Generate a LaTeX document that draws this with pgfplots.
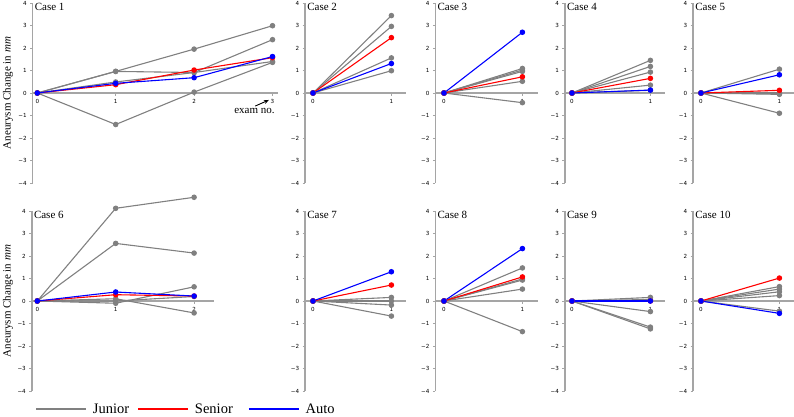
\documentclass[border=0pt]{standalone}
\usepackage{pgfplots}
\pgfplotsset{compat=1.18}
\usepackage{fontspec}
\setmainfont{Liberation Serif}
\newfontfamily\tickfamily{DejaVu Sans}
\usetikzlibrary{arrows.meta}
\definecolor{spine}{RGB}{165,165,165}
\definecolor{jgray}{RGB}{128,128,128}
\definecolor{sred}{RGB}{255,0,0}
\definecolor{ablue}{RGB}{0,0,255}
\newcommand{\tickfont}{\tickfamily\fontsize{5.6}{6}\selectfont}
\newcommand{\titlefont}{\fontsize{11}{13}\selectfont}
\newcommand{\legfont}{\fontsize{14.5}{16}\selectfont}
\pgfplotsset{
  case/.style={
    x=78.4pt, y=22.5pt, ymin=-4, ymax=4, anchor=origin, clip=false,
    axis x line=middle, axis y line=left,
    axis line style={draw=spine, line width=1.4pt, -},
    ytick={-4,-3,...,4}, yticklabels={−4,−3,−2,−1,0,1,2,3,4},
    xtick={0,1}, xticklabels={0,1},
    tick align=outside, major tick length=2.5pt,
    tick style={draw=spine, line width=0.8pt},
    ticklabel style={font=\tickfont, text=black},
    hide obscured x ticks=false, hide obscured y ticks=false,
    every axis plot/.append style={line width=1.1pt, mark=*, mark size=2.2pt},
  },
  jr/.style={color=jgray, mark options={fill=jgray}},
  sr/.style={color=sred, mark options={fill=sred}},
  au/.style={color=ablue, mark options={fill=ablue}},
}
\newcommand{\casetitle}[1]{\node[anchor=north west, inner sep=0pt, font=\titlefont, xshift=2pt] at (rel axis cs:0,1) {#1};}
\begin{document}
\begin{tikzpicture}
\useasboundingbox (0,0) rectangle (794pt,416pt);
% ---------------- Case 1
\begin{axis}[case, at={(37.3pt,323pt)}, xmin=-0.06, xmax=3.07, xtick={0,1,2,3}, xticklabels={0,1,2,3}]
\addplot[jr] coordinates {(0,0) (1,0.96) (2,1.95) (3,2.99)};
\addplot[jr] coordinates {(0,0) (1,0.96) (2,0.91) (3,1.40)};
\addplot[jr] coordinates {(0,0) (1,0.49) (2,0.91) (3,2.37)};
\addplot[jr] coordinates {(0,0) (1,-1.40) (2,0.04) (3,1.36)};
\addplot[sr] coordinates {(0,0) (1,0.37) (2,1.02) (3,1.57)};
\addplot[au] coordinates {(0,0) (1,0.43) (2,0.68) (3,1.62)};
\casetitle{Case 1}
\node[rotate=90, font=\titlefont] at (axis cs:-0.374,0) {Aneurysm Change in \textit{mm}};
\draw[-{Stealth[length=5pt,width=4pt]}, line width=0.9pt] (axis cs:2.78,-0.58) -- (axis cs:2.955,-0.31);
\node[font=\titlefont, inner sep=0pt] at (axis cs:2.77,-0.80) {exam no.};
\end{axis}
% ---------------- Case 2
\begin{axis}[case, at={(313pt,323pt)}, xmin=-0.1, xmax=1.18]
\addplot[jr] coordinates {(0,0) (1,3.44)};
\addplot[jr] coordinates {(0,0) (1,2.96)};
\addplot[jr] coordinates {(0,0) (1,1.56)};
\addplot[jr] coordinates {(0,0) (1,0.99)};
\addplot[sr] coordinates {(0,0) (1,2.46)};
\addplot[au] coordinates {(0,0) (1,1.31)};
\casetitle{Case 2}
\end{axis}
% ---------------- Case 3
\begin{axis}[case, at={(444pt,323pt)}, xmin=-0.11, xmax=1.2]
\addplot[jr] coordinates {(0,0) (1,1.09)};
\addplot[jr] coordinates {(0,0) (1,1.02)};
\addplot[jr] coordinates {(0,0) (1,0.96)};
\addplot[jr] coordinates {(0,0) (1,0.52)};
\addplot[jr] coordinates {(0,0) (1,-0.43)};
\addplot[sr] coordinates {(0,0) (1,0.72)};
\addplot[au] coordinates {(0,0) (1,2.70)};
\casetitle{Case 3}
\end{axis}
% ---------------- Case 4
\begin{axis}[case, at={(572pt,323pt)}, xmin=-0.09, xmax=1.18]
\addplot[jr] coordinates {(0,0) (1,1.45)};
\addplot[jr] coordinates {(0,0) (1,1.18)};
\addplot[jr] coordinates {(0,0) (1,0.93)};
\addplot[jr] coordinates {(0,0) (1,0.35)};
\addplot[jr] coordinates {(0,0) (1,0.12)};
\addplot[sr] coordinates {(0,0) (1,0.65)};
\addplot[au] coordinates {(0,0) (1,0.13)};
\casetitle{Case 4}
\end{axis}
% ---------------- Case 5
\begin{axis}[case, at={(701pt,323pt)}, xmin=-0.1, xmax=1.19]
\addplot[jr] coordinates {(0,0) (1,1.06)};
\addplot[jr] coordinates {(0,0) (1,0.02)};
\addplot[jr] coordinates {(0,0) (1,-0.03)};
\addplot[jr] coordinates {(0,0) (1,-0.06)};
\addplot[jr] coordinates {(0,0) (1,-0.90)};
\addplot[sr] coordinates {(0,0) (1,0.12)};
\addplot[au] coordinates {(0,0) (1,0.81)};
\casetitle{Case 5}
\end{axis}
% ---------------- Case 6
\begin{axis}[case, at={(37.3pt,115pt)}, xmin=-0.07, xmax=2.25, xtick={0,1,2}, xticklabels={0,1,2},
  legend style={at={(axis cs:-0.03,-4.80)}, anchor=west, draw=none, fill=none, inner sep=0pt,
    font=\legfont, legend columns=3,
    /tikz/column 1/.append style={column sep=4pt},
    /tikz/column 2/.append style={column sep=6pt},
    /tikz/column 3/.append style={column sep=4pt},
    /tikz/column 4/.append style={column sep=13pt},
    /tikz/column 5/.append style={column sep=4pt}},
  legend image code/.code={\draw[#1, line width=1.8pt] (0pt,0pt) -- (50pt,0pt);}]
\addlegendimage{color=jgray}\addlegendentry{Junior}
\addlegendimage{color=sred}\addlegendentry{Senior}
\addlegendimage{color=ablue}\addlegendentry{Auto}
\addplot[jr] coordinates {(0,0) (1,4.12) (2,4.61)};
\addplot[jr] coordinates {(0,0) (1,2.56) (2,2.13)};
\addplot[jr] coordinates {(0,0) (1,0.10) (2,-0.53)};
\addplot[jr] coordinates {(0,0) (1,-0.10) (2,0.63)};
\addplot[jr] coordinates {(0,0) (1,0.00) (2,0.20)};
\addplot[sr] coordinates {(0,0) (1,0.28) (2,0.22)};
\addplot[au] coordinates {(0,0) (1,0.40) (2,0.22)};
\casetitle{Case 6}
\node[rotate=90, font=\titlefont] at (axis cs:-0.374,0) {Aneurysm Change in \textit{mm}};
\end{axis}
% ---------------- Case 7
\begin{axis}[case, at={(313pt,115pt)}, xmin=-0.1, xmax=1.18]
\addplot[jr] coordinates {(0,0) (1,0.16)};
\addplot[jr] coordinates {(0,0) (1,0.00)};
\addplot[jr] coordinates {(0,0) (1,-0.18)};
\addplot[jr] coordinates {(0,0) (1,-0.67)};
\addplot[sr] coordinates {(0,0) (1,0.71)};
\addplot[au] coordinates {(0,0) (1,1.30)};
\casetitle{Case 7}
\end{axis}
% ---------------- Case 8
\begin{axis}[case, at={(444pt,115pt)}, xmin=-0.11, xmax=1.2]
\addplot[jr] coordinates {(0,0) (1,1.47)};
\addplot[jr] coordinates {(0,0) (1,0.98)};
\addplot[jr] coordinates {(0,0) (1,0.93)};
\addplot[jr] coordinates {(0,0) (1,0.53)};
\addplot[jr] coordinates {(0,0) (1,-1.36)};
\addplot[sr] coordinates {(0,0) (1,1.07)};
\addplot[au] coordinates {(0,0) (1,2.33)};
\casetitle{Case 8}
\end{axis}
% ---------------- Case 9
\begin{axis}[case, at={(572pt,115pt)}, xmin=-0.09, xmax=1.18]
\addplot[jr] coordinates {(0,0) (1,0.16)};
\addplot[jr] coordinates {(0,0) (1,0.07)};
\addplot[jr] coordinates {(0,0) (1,-0.47)};
\addplot[jr] coordinates {(0,0) (1,-1.16)};
\addplot[jr] coordinates {(0,0) (1,-1.24)};
\addplot[sr] coordinates {(0,0) (1,0.00)};
\addplot[au] coordinates {(0,0) (1,0.00)};
\casetitle{Case 9}
\end{axis}
% ---------------- Case 10
\begin{axis}[case, at={(701pt,115pt)}, xmin=-0.1, xmax=1.19]
\addplot[jr] coordinates {(0,0) (1,0.64)};
\addplot[jr] coordinates {(0,0) (1,0.53)};
\addplot[jr] coordinates {(0,0) (1,0.41)};
\addplot[jr] coordinates {(0,0) (1,0.24)};
\addplot[jr] coordinates {(0,0) (1,-0.45)};
\addplot[sr] coordinates {(0,0) (1,1.02)};
\addplot[au] coordinates {(0,0) (1,-0.55)};
\casetitle{Case 10}
\end{axis}
\end{tikzpicture}
\end{document}
